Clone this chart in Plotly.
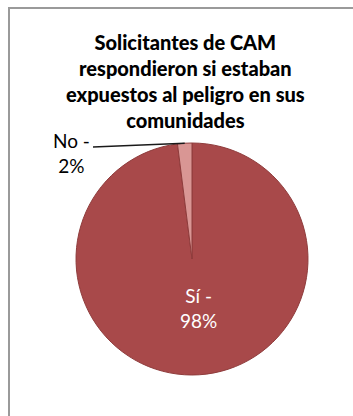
import math
import plotly.graph_objects as go

# Survey answers (share of respondents, %)
labels = ["Sí", "No"]
values = [98, 2]
colors = ["#A8494A", "#D99694"]
title_lines = ["Solicitantes de CAM", "respondieron si estaban",
               "expuestos al peligro en sus", "comunidades"]

W, H = 353, 416
cx, cy, r = 192, 259, 116  # pie centre and radius in pixels


def px(x):
    return x / W


def py(y):
    return 1 - y / H


fig = go.Figure(go.Pie(
    labels=labels,
    values=values,
    sort=False,
    direction="clockwise",
    rotation=0,
    marker=dict(colors=colors, line=dict(color="#8F3C3C", width=1)),
    textinfo="none",
    hoverinfo="label+percent",
    showlegend=False,
    domain=dict(x=[px(cx - r), px(cx + r)], y=[py(cy + r), py(cy - r)]),
))

# mid-angle of the "No" slice, measured clockwise from 12 o'clock
total = sum(values)
start = values[0] / total * 360
mid = math.radians(start + values[1] / total * 360 / 2)
ex = cx + r * math.sin(mid)
ey = cy - r * math.cos(mid)

shapes = [
    # chart frame
    dict(type="rect", xref="paper", yref="paper",
         x0=px(9), x1=1.1, y0=-0.1, y1=py(8),
         line=dict(color="#9A9A9A", width=2), layer="below"),
    # leader line to the small slice
    dict(type="line", xref="paper", yref="paper",
         x0=px(93), y0=py(147), x1=px(ex), y1=py(ey),
         line=dict(color="#1A1A1A", width=1.3)),
]

font_family = "Lato, 'Open Sans', sans-serif"
annotations = [
    dict(text="<br>".join(title_lines),
         x=px(185), y=py(81), xref="paper", yref="paper",
         xanchor="center", yanchor="middle", showarrow=False,
         font=dict(family=font_family, size=20, weight=900, color="#000000")),
    dict(text=f"{labels[1]} -<br>{values[1]}%",
         x=px(71), y=py(153), xref="paper", yref="paper",
         xanchor="center", yanchor="middle", showarrow=False,
         font=dict(family=font_family, size=19, color="#000000")),
    dict(text=f"{labels[0]} -<br>{values[0]}%",
         x=px(199), y=py(308), xref="paper", yref="paper",
         xanchor="center", yanchor="middle", showarrow=False,
         font=dict(family=font_family, size=19, color="#FFFFFF")),
]

fig.update_layout(
    width=W, height=H,
    margin=dict(l=0, r=0, t=0, b=0),
    paper_bgcolor="#FFFFFF",
    plot_bgcolor="#FFFFFF",
    shapes=shapes,
    annotations=annotations,
)

fig.write_html("out.html")
